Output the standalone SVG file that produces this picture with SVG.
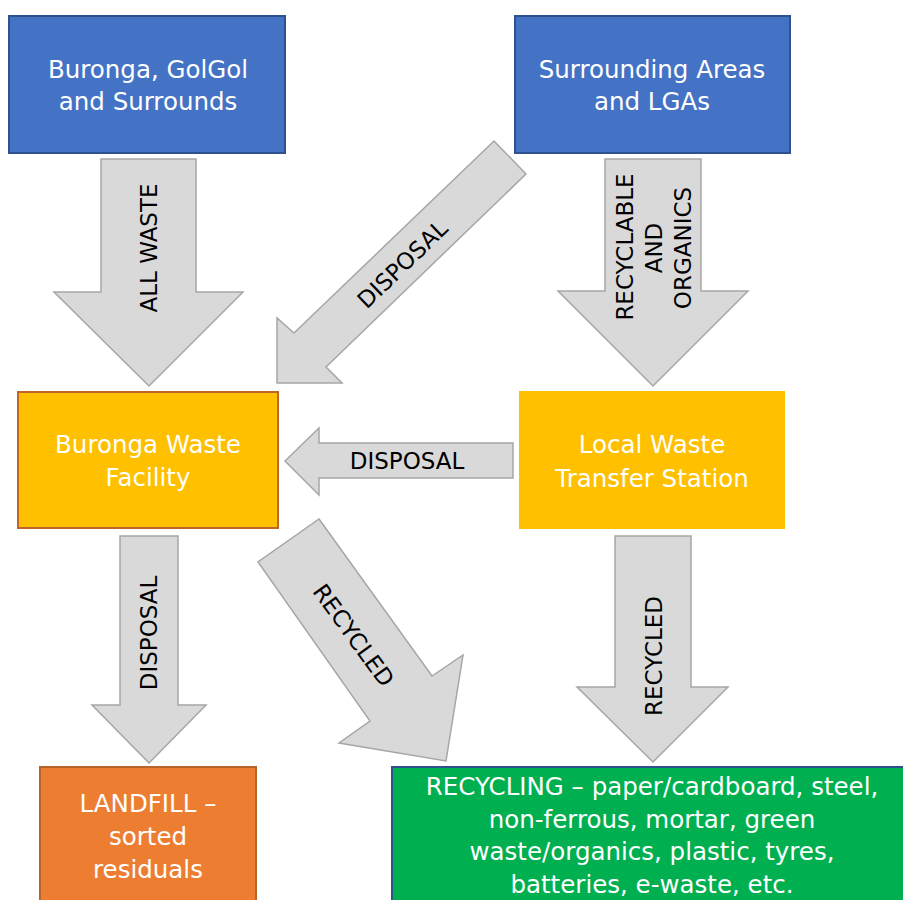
<svg xmlns="http://www.w3.org/2000/svg" width="903" height="900" viewBox="0 0 903 900">
<style>
.box{stroke-width:2}
.blue{fill:#4472C4;stroke:#2F528F}
.amber{fill:#FFC000}
.orange{fill:#ED7D31;stroke:#B5652A}
.green{fill:#00B050;stroke:#2F528F}
.bt{font-family:"DejaVu Sans","Verdana",sans-serif;font-size:24.5px;fill:#FFFFFF;text-anchor:middle}
.arrow{fill:#D9D9D9;stroke:#A6A6A6;stroke-width:1.5;stroke-linejoin:miter}
.lbl{font-family:"DejaVu Sans","Verdana",sans-serif;font-size:23px;fill:#000000;text-anchor:middle}
</style>
<rect width="903" height="900" fill="#FFFFFF"/>
<g id="connectors">
  <g id="arrow-all-waste">
    <polygon class="arrow" points="101,159 196,159 196,292 243,292 149,386 54,292 101,292"/>
    <text class="lbl" transform="translate(157,248) rotate(-90)">ALL WASTE</text>
  </g>
  <g id="arrow-recyclable">
    <polygon class="arrow" points="605,159 701,159 701,291 748,291 653,386 558,291 605,291"/>
    <text class="lbl" transform="translate(633,247) rotate(-90)">RECYCLABLE</text>
    <text class="lbl" transform="translate(662,248) rotate(-90)">AND</text>
    <text class="lbl" transform="translate(691,248) rotate(-90)">ORGANICS</text>
  </g>
  <g id="arrow-disposal-diag">
    <polygon class="arrow" points="277,383 277,318 294,333 494,141 526,174 326,367 342,383"/>
    <text class="lbl" transform="translate(408,270) rotate(-44)">DISPOSAL</text>
  </g>
  <g id="arrow-disposal-horiz">
    <polygon class="arrow" points="285,461 319,428 319,443 513,443 513,478 319,478 319,495"/>
    <text class="lbl" x="407" y="469">DISPOSAL</text>
  </g>
  <g id="arrow-disposal-landfill">
    <polygon class="arrow" points="120,536 178,536 178,705 206,705 149,763 92,705 120,705"/>
    <text class="lbl" transform="translate(157,633) rotate(-90)">DISPOSAL</text>
  </g>
  <g id="arrow-recycled-diag">
    <polygon class="arrow" points="319,519 432,676 463,655 446,761 339,743 370,721 258,562"/>
    <text class="lbl" transform="translate(347,640) rotate(54)">RECYCLED</text>
  </g>
  <g id="arrow-recycled-vert">
    <polygon class="arrow" points="615,536 691,536 691,687 728,687 653,762 577,687 615,687"/>
    <text class="lbl" transform="translate(662,656) rotate(-90)">RECYCLED</text>
  </g>
</g>
<g id="node-buronga-golgol">
  <rect class="box blue" x="9" y="16" width="276" height="137"/>
  <text class="bt"><tspan x="148" y="78">Buronga, GolGol</tspan><tspan x="148" y="110">and Surrounds</tspan></text>
</g>
<g id="node-surrounding">
  <rect class="box blue" x="515" y="16" width="275" height="137"/>
  <text class="bt"><tspan x="652" y="78">Surrounding Areas</tspan><tspan x="652" y="110">and LGAs</tspan></text>
</g>
<g id="node-buronga-facility">
  <rect class="box amber" x="18" y="392" width="260" height="136" stroke="#C0652A"/>
  <text class="bt"><tspan x="148" y="453">Buronga Waste</tspan><tspan x="148" y="486">Facility</tspan></text>
</g>
<g id="node-local-transfer">
  <rect class="amber" x="519" y="391" width="266" height="138"/>
  <text class="bt"><tspan x="652" y="453">Local Waste</tspan><tspan x="652" y="487">Transfer Station</tspan></text>
</g>
<g id="node-landfill">
  <rect class="box orange" x="40" y="767" width="216" height="150"/>
  <text class="bt"><tspan x="148" y="812">LANDFILL –</tspan><tspan x="148" y="845">sorted</tspan><tspan x="148" y="878">residuals</tspan></text>
</g>
<g id="node-recycling">
  <rect class="box green" x="392" y="767" width="530" height="150"/>
  <text class="bt"><tspan x="652" y="795">RECYCLING – paper/cardboard, steel,</tspan><tspan x="652" y="828">non-ferrous, mortar, green</tspan><tspan x="652" y="860">waste/organics, plastic, tyres,</tspan><tspan x="652" y="893">batteries, e-waste, etc.</tspan></text>
</g>
</svg>
